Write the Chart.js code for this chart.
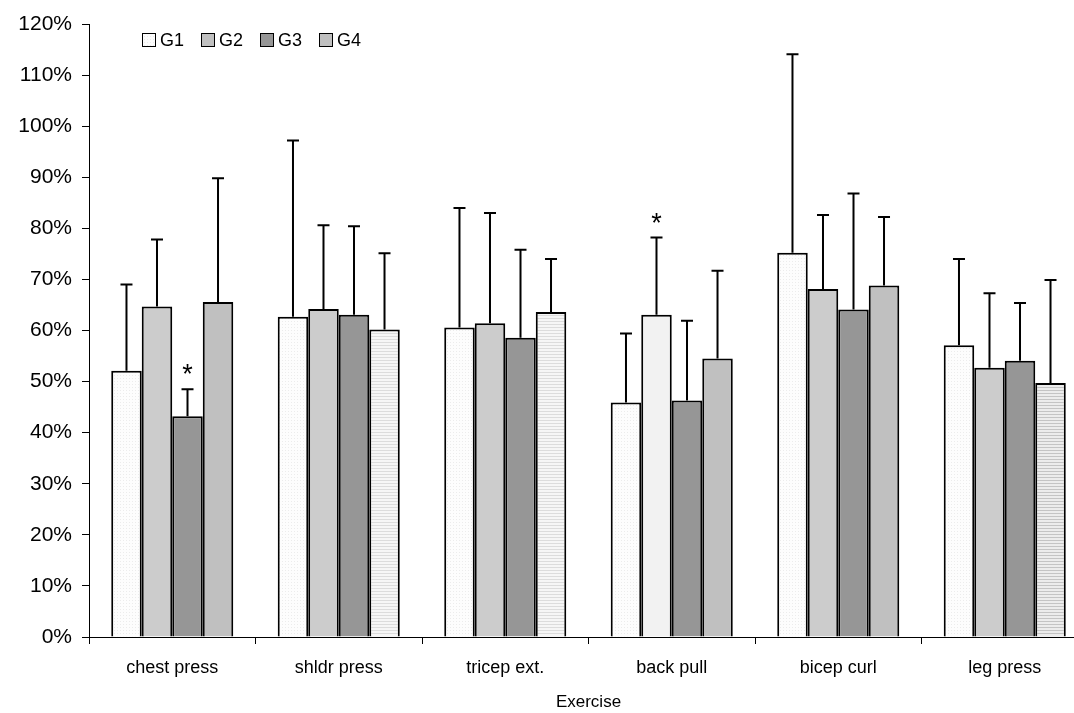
<!DOCTYPE html>
<html>
<head>
<meta charset="utf-8">
<script src="https://cdn.jsdelivr.net/npm/chart.js@4"></script>
<style>
  body { margin: 0; overflow: hidden; background: #fff; }
  #wrap { width: 1090px; height: 713px; }
</style>
</head>
<body>
<div id="wrap"><canvas id="myChart"></canvas></div>
<script>
const exercises = ['chest press', 'shldr press', 'tricep ext.', 'back pull', 'bicep curl', 'leg press'];
const groups = ['G1', 'G2', 'G3', 'G4'];

// mean values (%)
const g1 = [52.1, 62.7, 60.6, 45.9, 75.2, 57.1];
const g2 = [64.7, 64.2, 61.4, 63.1, 68.1, 52.7];
const g3 = [43.2, 63.1, 58.6, 46.3, 64.1, 54.1];
const g4 = [65.6, 60.2, 63.6, 54.5, 68.8, 49.7];

// top of the error bars (%)
const g1Err = [69.0, 97.2, 84.0, 59.4, 114.1, 74.0];
const g2Err = [77.8, 80.6, 83.0, 78.2, 82.6, 67.3];
const g3Err = [48.5, 80.4, 75.8, 61.9, 86.8, 65.4];
const g4Err = [89.8, 75.1, 74.0, 71.7, 82.2, 69.9];

// significance markers: [exercise index, group index]
const stars = [[0, 2], [3, 1]];

const yTicks = [0, 10, 20, 30, 40, 50, 60, 70, 80, 90, 100, 110, 120];

function makePattern(kind) {
    const c = document.createElement('canvas');
    const ctx = c.getContext('2d');
    if (kind === 'dots') {
        c.width = 3; c.height = 3;
        ctx.fillStyle = '#fdfdfd';
        ctx.fillRect(0, 0, 3, 3);
        ctx.fillStyle = '#ececec';
        ctx.fillRect(0, 0, 1, 1);
    } else if (kind === 'lines') {
        c.width = 4; c.height = 3;
        ctx.fillStyle = '#f6f6f6';
        ctx.fillRect(0, 0, 4, 3);
        ctx.fillStyle = '#dcdcdc';
        ctx.fillRect(0, 0, 4, 1);
    } else {
        c.width = 4; c.height = 3;
        ctx.fillStyle = '#ececec';
        ctx.fillRect(0, 0, 4, 3);
        ctx.fillStyle = '#c4c4c4';
        ctx.fillRect(0, 0, 4, 1);
    }
    return document.createElement('canvas').getContext('2d').createPattern(c, 'repeat');
}

const dots = makePattern('dots');
const lines = makePattern('lines');
const linesDark = makePattern('linesDark');

const g1Colors = [dots, dots, dots, dots, dots, dots];
const g2Colors = ['#cccccc', '#cccccc', '#cccccc', '#f2f2f2', '#cccccc', '#cccccc'];
const g3Colors = ['#969696', '#969696', '#969696', '#969696', '#969696', '#969696'];
const g4Colors = ['#c0c0c0', lines, lines, '#c0c0c0', '#c0c0c0', linesDark];
const legendColors = [dots, '#c0c0c0', '#969696', '#c0c0c0'];

const errTops = [g1Err, g2Err, g3Err, g4Err];

const errorBars = {
    id: 'errorBars',
    afterDatasetsDraw(chart) {
        const ctx = chart.ctx;
        const yScale = chart.scales.y;
        ctx.save();
        ctx.strokeStyle = '#000';
        ctx.lineWidth = 2;
        chart.data.datasets.forEach((ds, i) => {
            const meta = chart.getDatasetMeta(i);
            meta.data.forEach((bar, j) => {
                const yTop = yScale.getPixelForValue(errTops[i][j]);
                ctx.beginPath();
                ctx.moveTo(bar.x, bar.y);
                ctx.lineTo(bar.x, yTop);
                ctx.moveTo(bar.x - 6, yTop);
                ctx.lineTo(bar.x + 6, yTop);
                ctx.stroke();
            });
        });
        ctx.fillStyle = '#000';
        ctx.font = '27px "Liberation Sans", Arial';
        ctx.textAlign = 'center';
        ctx.textBaseline = 'alphabetic';
        stars.forEach(([j, i]) => {
            const bar = chart.getDatasetMeta(i).data[j];
            const yTop = yScale.getPixelForValue(errTops[i][j]);
            ctx.fillText('*', bar.x, yTop - 6);
        });
        ctx.restore();
    }
};

const legendBoxes = {
    id: 'legendBoxes',
    afterDraw(chart) {
        const ctx = chart.ctx;
        ctx.save();
        ctx.font = '18px "Liberation Sans", Arial';
        ctx.textBaseline = 'middle';
        ctx.textAlign = 'left';
        let x = 142;
        const y = 33;
        groups.forEach((g, i) => {
            ctx.fillStyle = legendColors[i];
            ctx.fillRect(x, y, 14, 14);
            ctx.strokeStyle = '#000';
            ctx.lineWidth = 1;
            ctx.strokeRect(x + 0.5, y + 0.5, 13, 13);
            ctx.fillStyle = '#000';
            ctx.fillText(g, x + 18, y + 8);
            x += 59;
        });
        ctx.restore();
    }
};

const data = {
    labels: exercises,
    datasets: [
        { label: groups[0], data: g1, backgroundColor: g1Colors },
        { label: groups[1], data: g2, backgroundColor: g2Colors },
        { label: groups[2], data: g3, backgroundColor: g3Colors },
        { label: groups[3], data: g4, backgroundColor: g4Colors }
    ].map(d => Object.assign(d, {
        borderColor: '#000',
        borderWidth: 2,
        barPercentage: 1,
        categoryPercentage: 0.733
    }))
};

const config = {
    type: 'bar',
    data: data,
    options: {
        responsive: true,
        maintainAspectRatio: false,
        animation: false,
        layout: { padding: { top: 24, right: 2, left: 0, bottom: 0 } },
        plugins: {
            legend: { display: false },
            tooltip: { enabled: false }
        },
        scales: {
            x: {
                afterFit(scale) { scale.height = 76; },
                grid: { display: true, drawOnChartArea: false, offset: true, tickLength: 7, color: '#000' },
                border: { color: '#000', width: 1 },
                ticks: { color: '#000', font: { family: '"Liberation Sans", Arial', size: 18 }, padding: 13 },
                title: {
                    display: true, text: 'Exercise', color: '#000',
                    font: { family: '"Liberation Sans", Arial', size: 17 },
                    padding: { top: 4, bottom: 0 }
                }
            },
            y: {
                min: 0, max: 120,
                afterBuildTicks(scale) { scale.ticks = yTicks.map(v => ({ value: v })); },
                afterFit(scale) { scale.width = 89; },
                grid: { display: true, drawOnChartArea: false, tickLength: 7, color: '#000' },
                border: { color: '#000', width: 1 },
                ticks: {
                    color: '#000', padding: 10,
                    font: { family: '"Liberation Sans", Arial', size: 21 },
                    callback: v => v + '%'
                }
            }
        }
    },
    plugins: [errorBars, legendBoxes]
};

let myChart = new Chart(document.getElementById('myChart'), config);
</script>
</body>
</html>
